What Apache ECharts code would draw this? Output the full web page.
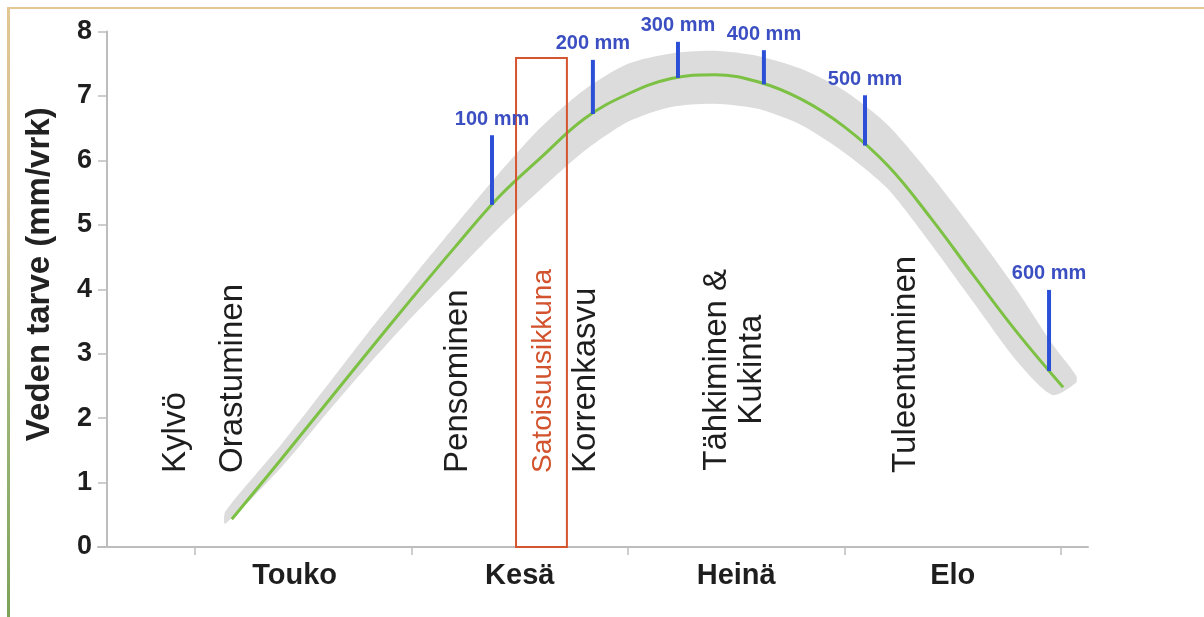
<!DOCTYPE html>
<html>
<head>
<meta charset="utf-8">
<script src="https://cdn.jsdelivr.net/npm/echarts@6/dist/echarts.min.js"></script>
<style>
html,body{margin:0;padding:0;background:#fff;}
#chart{position:absolute;left:0;top:0;width:1204px;height:617px;}
.frame-top{position:absolute;left:8px;top:7px;width:1196px;height:2px;background:#e3c795;z-index:5;}
.frame-left{position:absolute;left:7px;top:7px;width:3px;height:610px;background:linear-gradient(#e3c795,#d2bd92 35%,#9db577 65%,#7da35a);z-index:5;}
</style>
</head>
<body>
<div id="chart"></div>
<div class="frame-top"></div>
<div class="frame-left"></div>
<script>
// ---- data ----
const months = ['Touko', 'Kesä', 'Heinä', 'Elo'];
const monthTicks = [0, 1, 2, 3, 4];
const monthLabelPos = [0.46, 1.5, 2.5, 3.5];

const lineX = [0.17, 0.4, 0.6, 0.8, 1.0, 1.2, 1.4, 1.6, 1.8, 2.0, 2.2, 2.4, 2.6, 2.8, 3.0, 3.2, 3.4, 3.6, 3.8, 4.01];
const lineY = [0.43, 1.37, 2.2, 3.03, 3.85, 4.65, 5.42, 6.05, 6.65, 7.03, 7.27, 7.33, 7.22, 6.95, 6.52, 5.92, 5.1, 4.2, 3.32, 2.48];

const bandX    = [0.14, 0.4, 0.6, 0.8, 1.0, 1.2, 1.4, 1.6, 1.8, 2.0, 2.2, 2.4, 2.6, 2.8, 3.0, 3.2, 3.4, 3.6, 3.8, 3.96, 4.07];
const bandLow  = [0.36, 1.24, 2.04, 2.82, 3.56, 4.25, 4.94, 5.56, 6.15, 6.6, 6.83, 6.88, 6.8, 6.55, 6.12, 5.56, 4.7, 3.78, 2.87, 2.36, 2.55];
const bandHigh = [0.55, 1.6, 2.46, 3.33, 4.16, 4.98, 5.78, 6.52, 7.1, 7.5, 7.66, 7.7, 7.62, 7.42, 7.08, 6.55, 5.77, 4.9, 3.97, 3.15, 2.66];

const markLabels = ['100 mm', '200 mm', '300 mm', '400 mm', '500 mm', '600 mm'];
const markX    = [1.372, 1.838, 2.231, 2.628, 3.095, 3.945];
const markFrom = [5.31, 6.72, 7.28, 7.18, 6.23, 2.73];
const markTo   = [6.39, 7.56, 7.84, 7.71, 7.01, 3.99];

const windowName = 'Satoisuusikkuna';
const windowX = [1.483, 1.718];
const windowTop = 7.59;

const stageNames = ['Kylvö', 'Orastuminen', 'Pensominen', 'Korrenkasvu', 'Tähkiminen &\nKukinta', 'Tuleentuminen'];
const stageX = [-0.088, 0.176, 1.215, 1.806, 2.49, 3.284];

// ---- chart ----
const FONT = '"Liberation Sans", Arial, sans-serif';
const STAGE_BASE = 1.15;
const STAGE_MID = 2.75;

const chart = echarts.init(document.getElementById('chart'), null, {renderer: 'canvas'});
const axisGray = '#bdbdbd';

const option = {
  backgroundColor: '#ffffff',
  animation: false,
  grid: {left: 98, right: 116, top: 31.5, bottom: 70, containLabel: false},
  xAxis: {
    type: 'value',
    min: -0.448,
    max: 4.125,
    splitLine: {show: false},
    axisLine: {show: true, onZero: false, lineStyle: {color: axisGray, width: 2}},
    axisTick: {show: true, customValues: monthTicks, length: 8, lineStyle: {color: axisGray, width: 1.5}},
    axisLabel: {
      customValues: monthLabelPos,
      formatter: function (v) { return months[Math.round(v - 0.5)]; },
      fontSize: 29, fontWeight: 'bold', color: '#1e1e1e', margin: 14, fontFamily: FONT
    }
  },
  yAxis: {
    type: 'value',
    min: 0, max: 8, interval: 1,
    offset: -9,
    splitLine: {show: false},
    axisLine: {show: true, onZero: false, lineStyle: {color: axisGray, width: 2}},
    axisTick: {show: true, length: 9, lineStyle: {color: axisGray, width: 1.5}},
    axisLabel: {fontSize: 27, fontWeight: 'bold', color: '#1e1e1e', margin: 15, fontFamily: FONT},
    name: 'Veden tarve (mm/vrk)',
    nameLocation: 'middle',
    nameRotate: 90,
    nameGap: 51,
    nameTextStyle: {fontSize: 33, fontWeight: 'bold', color: '#222222', fontFamily: FONT, padding: [0, 0, 0, 30]}
  },
  series: [
    {
      type: 'custom', z: 1, silent: true,
      encode: {x: 0, y: [1, 2]},
      data: bandX.map((x, i) => [x, bandLow[i], bandHigh[i]]),
      renderItem: function (params, api) {
        if (params.dataIndexInside !== 0) return null;
        const n = bandX.length;
        const upper = [], lower = [];
        for (let j = 0; j < n; j++) {
          upper.push(api.coord([api.value(0, j), api.value(2, j)]));
          lower.push(api.coord([api.value(0, j), api.value(1, j)]));
        }
        return {
          type: 'polygon',
          shape: {points: upper.concat(lower.reverse()), smooth: 0.25},
          style: {fill: '#dcdcdc', stroke: 'none'}
        };
      }
    },
    {
      type: 'line', symbol: 'none', smooth: 0.4, z: 3,
      lineStyle: {color: '#7cc143', width: 3},
      data: lineX.map((x, i) => [x, lineY[i]])
    },
    {
      type: 'custom', z: 4, silent: true,
      encode: {x: [0, 1], y: 2},
      data: [[windowX[0], windowX[1], windowTop]],
      renderItem: function (params, api) {
        const p0 = api.coord([api.value(0), 0]);
        const p1 = api.coord([api.value(1), api.value(2)]);
        const cx = (p0[0] + p1[0]) / 2;
        const base = api.coord([0, STAGE_BASE]);
        return {
          type: 'group',
          children: [
            {type: 'rect', shape: {x: p0[0], y: p1[1], width: p1[0] - p0[0], height: p0[1] - p1[1]},
             style: {fill: 'none', stroke: '#d4552f', lineWidth: 2}},
            {type: 'text', x: cx + 2, y: base[1], rotation: Math.PI / 2,
             style: {text: windowName, fontSize: 28, fontFamily: FONT, fill: '#d2532d', align: 'left', verticalAlign: 'middle'}}
          ]
        };
      }
    },
    {
      type: 'custom', z: 5, silent: true,
      encode: {x: 0, y: [1, 2]},
      data: markX.map((x, i) => [x, markFrom[i], markTo[i], i]),
      renderItem: function (params, api) {
        const a = api.coord([api.value(0), api.value(1)]);
        const b = api.coord([api.value(0), api.value(2)]);
        return {
          type: 'group',
          children: [
            {type: 'line', shape: {x1: a[0], y1: a[1], x2: b[0], y2: b[1]},
             style: {stroke: '#2c4fd8', lineWidth: 4}},
            {type: 'text', x: b[0], y: b[1] - 16,
             style: {text: markLabels[api.value(3)], fontSize: 20, fontWeight: 'bold', fontFamily: FONT,
                     fill: '#3c4fc2', align: 'center', verticalAlign: 'middle'}}
          ]
        };
      }
    },
    {
      type: 'custom', z: 5, silent: true,
      encode: {x: 0, y: 1},
      data: stageX.map((x, i) => [x, i]),
      renderItem: function (params, api) {
        const name = stageNames[api.value(1)];
        const multi = name.indexOf('\n') >= 0;
        const p = api.coord([api.value(0), multi ? STAGE_MID : STAGE_BASE]);
        return {
          type: 'text', x: p[0], y: p[1], rotation: Math.PI / 2,
          style: {text: name, fontSize: 33, lineHeight: 35, fontFamily: FONT, fill: '#1e1e1e',
                  align: multi ? 'center' : 'left', verticalAlign: 'middle'}
        };
      }
    }
  ]
};
chart.setOption(option);
</script>
</body>
</html>
